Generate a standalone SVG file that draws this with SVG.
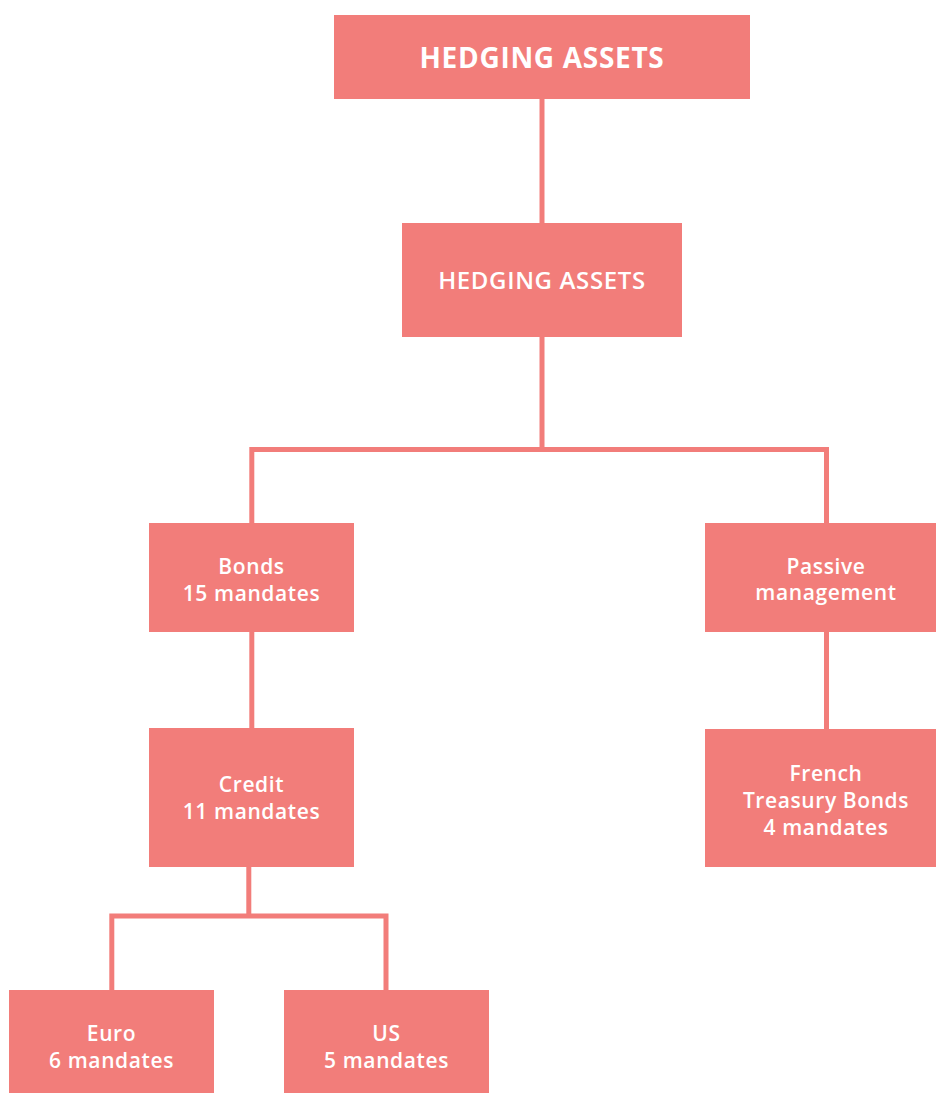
<svg xmlns="http://www.w3.org/2000/svg" width="936" height="1093" viewBox="0 0 936 1093">
<style>
.box{fill:#F27D7A}
.t{fill:#FFFFFF;font-family:"Open Sans","Liberation Sans",sans-serif;font-weight:600;font-size:21px;letter-spacing:0.6px;text-anchor:middle}
.h1{font-size:28px;font-weight:700;letter-spacing:0.7px}
.h2{font-size:24px;font-weight:600;letter-spacing:0.65px}
.c{fill:none;stroke:#F27D7A;stroke-width:5}
</style>
<rect width="936" height="1093" fill="#FFFFFF"/>
<g id="connectors">
<path class="c" d="M542 99 V223"/>
<path class="c" d="M542 337 V449.5 M251.8 523 V449.5 H826.5 V523"/>
<path class="c" d="M251.8 632 V728"/>
<path class="c" d="M826.5 632 V729"/>
<path class="c" d="M248.8 867 V916 M111.8 990 V916 H386 V990"/>
</g>
<g id="n1"><rect class="box" x="334" y="15" width="416" height="84"/><text class="t h1" x="542" y="68">HEDGING ASSETS</text></g>
<g id="n2"><rect class="box" x="402" y="223" width="280" height="114"/><text class="t h2" x="542" y="289">HEDGING ASSETS</text></g>
<g id="n3"><rect class="box" x="149" y="523" width="205" height="109"/><text class="t" x="251.5" y="574">Bonds</text><text class="t" x="251.5" y="601">15 mandates</text></g>
<g id="n4"><rect class="box" x="705" y="523" width="231" height="109"/><text class="t" x="826" y="574">Passive</text><text class="t" x="826" y="600">management</text></g>
<g id="n5"><rect class="box" x="149" y="728" width="205" height="139"/><text class="t" x="251.5" y="792">Credit</text><text class="t" x="251.5" y="819">11 mandates</text></g>
<g id="n6"><rect class="box" x="705" y="729" width="231" height="138"/><text class="t" x="826" y="781">French</text><text class="t" x="826" y="808">Treasury Bonds</text><text class="t" x="826" y="835">4 mandates</text></g>
<g id="n7"><rect class="box" x="9" y="990" width="205" height="103"/><text class="t" x="111.5" y="1041">Euro</text><text class="t" x="111.5" y="1068">6 mandates</text></g>
<g id="n8"><rect class="box" x="284" y="990" width="205" height="103"/><text class="t" x="386.5" y="1041">US</text><text class="t" x="386.5" y="1068">5 mandates</text></g>
</svg>
